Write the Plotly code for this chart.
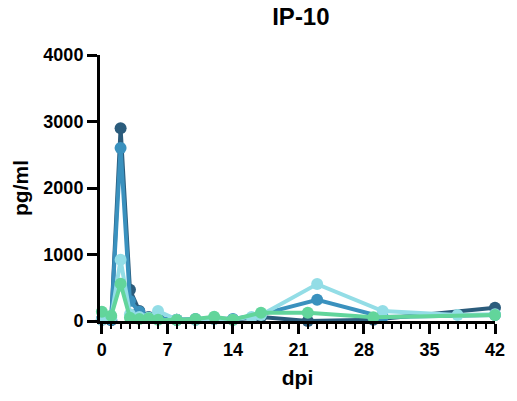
import plotly.graph_objects as go

dark_days = [0, 1, 2, 3, 4, 5, 6, 8, 10, 12, 14, 17, 22, 29, 42]
dark_vals = [20, 10, 2900, 470, 150, 60, 40, 20, 20, 30, 20, 60, 0, 20, 200]

mid_days = [0, 1, 2, 3, 4, 5, 6, 8, 10, 12, 14, 17, 23, 30, 42]
mid_vals = [30, 20, 2600, 300, 140, 50, 40, 20, 30, 40, 30, 100, 320, 60, 90]

light_days = [0, 1, 2, 3, 4, 5, 6, 8, 10, 12, 14, 16, 17, 23, 30, 38, 42]
light_vals = [20, 50, 920, 100, 60, 50, 150, 20, 20, 30, 20, 60, 90, 555, 150, 90, 100]

green_days = [0, 1, 2, 3, 4, 5, 6, 8, 10, 12, 14, 17, 22, 29, 42]
green_vals = [140, 80, 560, 50, 30, 40, 20, 15, 30, 65, 20, 125, 125, 55, 90]

series = [
    ("dark", dark_days, dark_vals, "#2b5c7c"),
    ("mid", mid_days, mid_vals, "#3a91be"),
    ("light", light_days, light_vals, "#93dde6"),
    ("green", green_days, green_vals, "#62d59b"),
]

x_ticks = [0, 7, 14, 21, 28, 35, 42]
y_ticks = [0, 1000, 2000, 3000, 4000]

fig = go.Figure()
for name, d, v, c in series:
    fig.add_trace(go.Scatter(
        x=d, y=v, mode="lines+markers", name=name,
        line=dict(color=c, width=4),
        marker=dict(color=c, size=12),
        cliponaxis=False, showlegend=False,
    ))

font = "Arial, Liberation Sans, sans-serif"
fig.update_layout(
    width=517, height=401,
    margin=dict(l=100, r=17, t=55, b=80),
    paper_bgcolor="white", plot_bgcolor="white",
    title=dict(text="<b>IP-10</b>", x=0.582, xanchor="center", y=0.958, yanchor="middle",
               font=dict(family=font, size=24, color="black")),
    font=dict(family=font, color="black"),
)
fig.update_xaxes(
    range=[-0.2, 42], tickvals=x_ticks, ticktext=[f"<b>{t}</b>" for t in x_ticks],
    ticks="outside", ticklen=10, tickwidth=2.5, tickcolor="black",
    minor=dict(dtick=1, ticks="outside", ticklen=5, tickwidth=2, tickcolor="black"),
    showline=True, linewidth=3, linecolor="black", showgrid=False, zeroline=False,
    tickfont=dict(size=18, family=font, color="black"),
    title=dict(text="<b>dpi</b>", font=dict(size=21, family=font, color="black"), standoff=12),
)
fig.update_yaxes(
    range=[0, 4000], tickvals=y_ticks, ticktext=[f"<b>{t}</b>" for t in y_ticks],
    ticks="outside", ticklen=10, tickwidth=2.5, tickcolor="black",
    showline=True, linewidth=3, linecolor="black", showgrid=False, zeroline=False,
    tickfont=dict(size=18, family=font, color="black"),
    title=dict(text="<b>pg/ml</b>", font=dict(size=21, family=font, color="black"), standoff=10),
)
fig.write_html("out.html")
